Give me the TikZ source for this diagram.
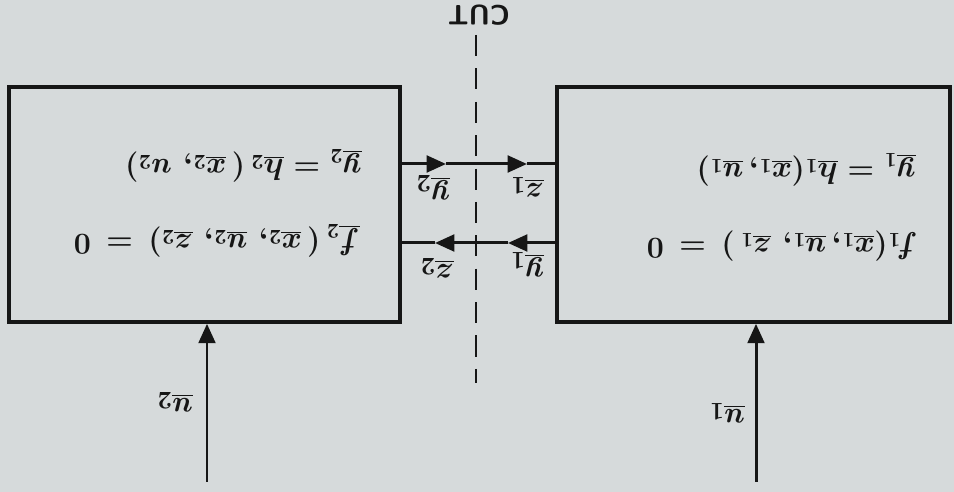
\documentclass[tikz,border=0pt]{standalone}
\usetikzlibrary{arrows.meta}
\definecolor{paper}{RGB}{214,218,219}
\definecolor{ink}{RGB}{22,22,22}
\begin{document}
\begin{tikzpicture}[x=0.02cm,y=-0.02cm,
  box/.style={draw=ink, line width=2.1pt, fill=paper, inner sep=0pt},
  conn/.style={draw=ink, line width=1.7pt},
  tip/.style={-{Triangle[length=11pt,width=9.5pt]}},
  eqn/.style={rotate=180, anchor=west, inner sep=0pt, text=ink, font=\fontsize{18}{22}\selectfont\boldmath},
  lbl/.style={rotate=180, inner sep=0pt, text=ink, font=\fontsize{19}{23}\selectfont\boldmath},
  cutline/.style={draw=ink, line width=1.7pt, dash pattern=on 12pt off 7pt}]
\fill[paper] (0,0) rectangle (954,492);
\useasboundingbox (0,0) rectangle (954,492);
% boxes
\node[box, minimum width=7.82cm, minimum height=4.70cm] (L) at (204.5,204.5) {};
\node[box, minimum width=7.86cm, minimum height=4.70cm] (R) at (753.5,204.5) {};
% helper coordinates
\coordinate (h1) at (0,164);
\coordinate (h2) at (0,243);
\coordinate (t1) at (446,164);
\coordinate (t2) at (527,164);
\coordinate (t3) at (435,243);
\coordinate (t4) at (508,243);
\coordinate (c1) at (476,35);
\coordinate (c2) at (476,383);
\coordinate (u2s) at (207,482);
\coordinate (u1s) at (756,482);
% cut line
\draw[cutline] (c1) -- (c2);
\node[lbl, font=\sffamily\bfseries\fontsize{16}{19}\selectfont] (cut) at (479,15) {CUT};
% upper connector (to the right)
\draw[conn,tip] (L.east |- h1) -- (t1);
\draw[conn,tip] (t1) -- (t2);
\draw[conn] (t2) -- (R.west |- h1);
% lower connector (to the left)
\draw[conn,tip] (R.west |- h2) -- (t4);
\draw[conn,tip] (t4) -- (t3);
\draw[conn] (t3) -- (L.east |- h2);
% inputs
\draw[conn,tip] (u2s) -- (u2s |- L.south);
\draw[conn,tip] (u1s) -- (u1s |- R.south);
% equations
\node[eqn] (eL1) at (362,166) {$\underline{y}_2 = \underline{h}_2\,(\,\underline{x}_2,\, u_2)$};
\node[eqn] (eL2) at (360,241) {$\underline{f}_2\,(\,\underline{x}_2,\, \underline{u}_2,\, \underline{z}_2)\,=\,0$};
\node[eqn] (eR1) at (916,170) {$\underline{y}_1 = \underline{h}_1(\underline{x}_1, \underline{u}_1)$};
\node[eqn] (eR2) at (918,246) {$f_1(\underline{x}_1, \underline{u}_1,\, \underline{z}_1\,)\,=\,0$};
% labels
\node[lbl] (ly2) at (433,188) {$\underline{y}_2$};
\node[lbl] (lz1) at (527,187) {$\underline{z}_1$};
\node[lbl] (lz2) at (437,268) {$\underline{z}_2$};
\node[lbl] (ly1) at (527,265) {$\underline{y}_1$};
\node[lbl] (lu2) at (175,402) {$\underline{u}_2$};
\node[lbl] (lu1) at (727,413) {$\underline{u}_1$};
\end{tikzpicture}
\end{document}
